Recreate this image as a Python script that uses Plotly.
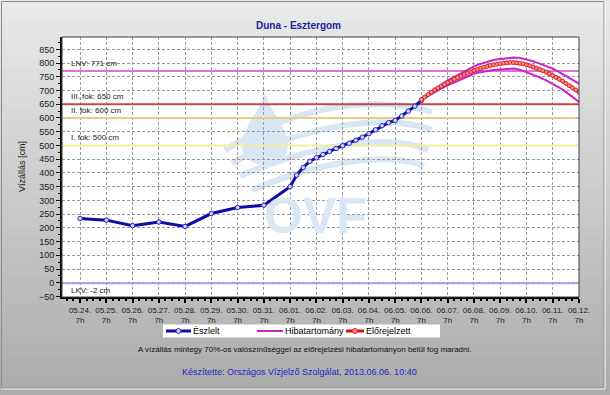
import plotly.graph_objects as go

# ---------------- data ----------------
obs_times = [
    "2013-05-24 07:00", "2013-05-25 07:00", "2013-05-26 07:00", "2013-05-27 07:00",
    "2013-05-28 07:00", "2013-05-29 07:00", "2013-05-30 07:00", "2013-05-31 07:00",
    "2013-06-01 07:00", "2013-06-01 13:00", "2013-06-01 19:00", "2013-06-02 01:00",
    "2013-06-02 07:00", "2013-06-02 13:00", "2013-06-02 19:00", "2013-06-03 01:00",
    "2013-06-03 07:00", "2013-06-03 13:00", "2013-06-03 19:00", "2013-06-04 01:00",
    "2013-06-04 07:00", "2013-06-04 13:00", "2013-06-04 19:00", "2013-06-05 01:00",
    "2013-06-05 07:00", "2013-06-05 13:00", "2013-06-05 19:00", "2013-06-06 01:00",
    "2013-06-06 07:00",
]
obs_values = [
    234, 228, 208, 221, 205, 252, 274, 282,
    350, 392, 420, 442, 455, 467, 478, 489,
    499, 508, 519, 530, 543, 557, 572, 583,
    591, 607, 625, 643, 664,
]

fc_times = [
    "2013-06-06 07:00", "2013-06-06 10:00", "2013-06-06 13:00", "2013-06-06 16:00",
    "2013-06-06 19:00", "2013-06-06 22:00", "2013-06-07 01:00", "2013-06-07 04:00",
    "2013-06-07 07:00", "2013-06-07 10:00", "2013-06-07 13:00", "2013-06-07 16:00",
    "2013-06-07 19:00", "2013-06-07 22:00", "2013-06-08 01:00", "2013-06-08 04:00",
    "2013-06-08 07:00", "2013-06-08 10:00", "2013-06-08 13:00", "2013-06-08 16:00",
    "2013-06-08 19:00", "2013-06-08 22:00", "2013-06-09 01:00", "2013-06-09 04:00",
    "2013-06-09 07:00", "2013-06-09 10:00", "2013-06-09 13:00", "2013-06-09 16:00",
    "2013-06-09 19:00", "2013-06-09 22:00", "2013-06-10 01:00", "2013-06-10 04:00",
    "2013-06-10 07:00", "2013-06-10 10:00", "2013-06-10 13:00", "2013-06-10 16:00",
    "2013-06-10 19:00", "2013-06-10 22:00", "2013-06-11 01:00", "2013-06-11 04:00",
    "2013-06-11 07:00", "2013-06-11 10:00", "2013-06-11 13:00", "2013-06-11 16:00",
    "2013-06-11 19:00", "2013-06-11 22:00", "2013-06-12 01:00", "2013-06-12 04:00",
    "2013-06-12 07:00",
]
fc_values = [
    667, 676, 685, 694, 702, 709, 716, 723,
    729, 735, 741, 747, 753, 758, 763, 768,
    773, 777, 781, 785, 788, 791, 794, 796,
    798, 800, 801, 802, 802, 801, 799, 797,
    794, 790, 786, 782, 777, 772, 767, 761,
    755, 748, 741, 734, 726, 718, 710, 702,
    694,
]

band_times = [
    "2013-06-06 07:00", "2013-06-06 13:00", "2013-06-06 19:00", "2013-06-07 01:00",
    "2013-06-07 07:00", "2013-06-07 13:00", "2013-06-07 19:00", "2013-06-08 01:00",
    "2013-06-08 07:00", "2013-06-08 13:00", "2013-06-08 19:00", "2013-06-09 01:00",
    "2013-06-09 07:00", "2013-06-09 13:00", "2013-06-09 19:00", "2013-06-10 01:00",
    "2013-06-10 07:00", "2013-06-10 13:00", "2013-06-10 19:00", "2013-06-11 01:00",
    "2013-06-11 07:00", "2013-06-11 13:00", "2013-06-11 19:00", "2013-06-12 01:00",
    "2013-06-12 07:00",
]
band_upper = [
    667, 686, 704, 721, 737, 750, 763, 776,
    788, 797, 805, 811, 815, 818, 820, 819,
    814, 807, 798, 789, 780, 767, 754, 740,
    725,
]
band_lower = [
    667, 681, 694, 707, 719, 730, 741, 751,
    761, 767, 772, 775, 777, 779, 780, 776,
    767, 758, 748, 737, 725, 711, 695, 677,
    658,
]

level_names = ["LNV: 771 cm", "III. fok: 650 cm", "II. fok: 600 cm", "I. fok: 500 cm", "LKV: -2 cm"]
level_values = [771, 650, 600, 500, -2]
level_colors = ["#e070e0", "#c04848", "#e8cc80", "#f2ee9c", "#a4a4ee"]

legend_names = ["Észlelt", "Hibatartomány", "Előrejelzett"]

tick_days = ["05.24.", "05.25.", "05.26.", "05.27.", "05.28.", "05.29.", "05.30.", "05.31.",
             "06.01.", "06.02.", "06.03.", "06.04.", "06.05.", "06.06.", "06.07.", "06.08.",
             "06.09.", "06.10.", "06.11.", "06.12."]
tick_vals = ["2013-%s-%s 07:00" % (d[0:2], d[3:5]) for d in tick_days]
tick_text = [d + "<br>7h" for d in tick_days]

x_range = ["2013-05-23 14:30", "2013-06-12 07:00"]
y_range = [-52, 895]

# ---------------- geometry helpers (pixel -> paper) ----------------
W, H = 610, 395
PL, PR, PT, PB = 62, 579, 37, 297


def px(x):
    return (x - PL) / (PR - PL)


def py(y):
    return (PB - y) / (PB - PT)


FONT = "Liberation Sans, Arial, sans-serif"

OBS_C, OBS_FILL, OBS_EDGE = "#0c0ca8", "#c8d4f4", "#2a2ac0"
BAND_C = "#cc22cc"
FC_C, FC_FILL, FC_EDGE = "#d01414", "#f09090", "#e02424"

fig = go.Figure()

# reference levels
for name, val, col in zip(level_names, level_values, level_colors):
    fig.add_trace(go.Scatter(x=x_range, y=[val, val], mode="lines",
                             line=dict(color=col, width=2), hoverinfo="skip",
                             showlegend=False))

# observed
fig.add_trace(go.Scatter(x=obs_times, y=obs_values, mode="lines+markers", name=legend_names[0],
                         line=dict(color=OBS_C, width=3), showlegend=False,
                         marker=dict(symbol="circle", size=4.5, color=OBS_FILL,
                                     line=dict(color=OBS_EDGE, width=1))))
# error band
fig.add_trace(go.Scatter(x=band_times, y=band_upper, mode="lines", name=legend_names[1],
                         line=dict(color=BAND_C, width=2), showlegend=False))
fig.add_trace(go.Scatter(x=band_times, y=band_lower, mode="lines", name=legend_names[1],
                         line=dict(color=BAND_C, width=2), showlegend=False))
# forecast
fig.add_trace(go.Scatter(x=fc_times, y=fc_values, mode="lines+markers", name=legend_names[2],
                         line=dict(color=FC_C, width=3), showlegend=False,
                         marker=dict(symbol="circle", size=4, color=FC_FILL,
                                     line=dict(color=FC_EDGE, width=1))))

shapes = []
annotations = []
# background gradient
N = 40
top_c = (234, 234, 234)
bot_c = (172, 172, 172)
for i in range(N):
    t = i / (N - 1)
    c = tuple(int(top_c[k] + (bot_c[k] - top_c[k]) * t) for k in range(3))
    y0 = i * H / N
    y1 = (i + 1) * H / N + 0.5
    shapes.append(dict(type="rect", xref="paper", yref="paper", layer="below",
                       x0=px(0), x1=px(W), y0=py(y1), y1=py(y0),
                       line=dict(width=0), fillcolor="rgb(%d,%d,%d)" % c))
# panel frame
shapes.append(dict(type="rect", xref="paper", yref="paper", layer="below",
                   x0=px(1.5), x1=px(604), y0=py(388), y1=py(1.5),
                   line=dict(color="#8c8c8c", width=1), fillcolor="rgba(0,0,0,0)"))
shapes.append(dict(type="line", xref="paper", yref="paper", layer="below",
                   x0=px(1), x1=px(605), y0=py(389), y1=py(389),
                   line=dict(color="#f4f4f4", width=1)))
shapes.append(dict(type="line", xref="paper", yref="paper", layer="below",
                   x0=px(605), x1=px(605), y0=py(389), y1=py(1),
                   line=dict(color="#f4f4f4", width=1)))
# plot area white
shapes.append(dict(type="rect", xref="paper", yref="paper", layer="below",
                   x0=0, x1=1, y0=0, y1=1, line=dict(width=0), fillcolor="white"))

# watermark (OVF logo)
wm = "#d9e6f3"
drop = ("M %f,%f C %f,%f %f,%f %f,%f C %f,%f %f,%f %f,%f "
        "C %f,%f %f,%f %f,%f C %f,%f %f,%f %f,%f Z") % (
    px(265), py(92),
    px(270), py(112), px(288), py(128), px(288), py(145),
    px(288), py(158), px(278), py(165), px(265), py(165),
    px(252), py(165), px(242), py(158), px(242), py(145),
    px(242), py(128), px(260), py(112), px(265), py(92))
shapes.append(dict(type="path", xref="paper", yref="paper", layer="below",
                   path=drop, fillcolor=wm, line=dict(width=0)))
waves = [
    (225, 150, 300, 102, 380, 96, 432, 112),
    (232, 163, 310, 122, 390, 114, 432, 130),
    (240, 176, 320, 142, 392, 134, 428, 150),
    (252, 190, 322, 160, 392, 152, 424, 166),
]
for (x0, y0, cx1, cy1, cx2, cy2, x1, y1) in waves:
    p = "M %f,%f C %f,%f %f,%f %f,%f" % (px(x0), py(y0), px(cx1), py(cy1),
                                         px(cx2), py(cy2), px(x1), py(y1))
    shapes.append(dict(type="path", xref="paper", yref="paper", layer="below",
                       path=p, line=dict(color=wm, width=6)))
annotations.append(dict(text="<b>OVF</b>", xref="paper", yref="paper", x=px(315), y=py(216),
                        showarrow=False, font=dict(family="Liberation Sans, Arial", size=50,
                                                   color=wm), xanchor="center", yanchor="middle"))

# level labels
for name, val in zip(level_names, level_values):
    annotations.append(dict(text=name, xref="paper", yref="y", x=px(69), y=val,
                            xanchor="left", yanchor="top" if val < 100 else "bottom",
                            yshift=-1 if val < 100 else 1,
                            showarrow=False, font=dict(family=FONT, size=8, color="#202020")))

# manual legend (white box below the plot)
LY = 331
shapes.append(dict(type="rect", xref="paper", yref="paper", x0=px(163), x1=px(440),
                   y0=py(337.5), y1=py(324.5), line=dict(width=0), fillcolor="white"))
legend_items = [
    (legend_names[0], OBS_C, 3, OBS_FILL, OBS_EDGE, 166, 191),
    (legend_names[1], BAND_C, 2, None, None, 257, 283),
    (legend_names[2], FC_C, 3, FC_FILL, FC_EDGE, 346, 364),
]
for name, col, lw, fill, edge, lx0, lx1 in legend_items:
    shapes.append(dict(type="line", xref="paper", yref="paper", x0=px(lx0), x1=px(lx1),
                       y0=py(LY), y1=py(LY), line=dict(color=col, width=lw)))
    if fill:
        cx = (lx0 + lx1) / 2
        shapes.append(dict(type="circle", xref="paper", yref="paper",
                           x0=px(cx - 2.5), x1=px(cx + 2.5), y0=py(LY + 2.5), y1=py(LY - 2.5),
                           fillcolor=fill, line=dict(color=edge, width=1)))
    annotations.append(dict(text=name, xref="paper", yref="paper", x=px(lx1), y=py(LY),
                            xanchor="left", yanchor="middle", showarrow=False,
                            font=dict(family=FONT, size=9, color="#000")))

# captions
annotations.append(dict(text="A vízállás mintegy 70%-os valószínűséggel az előrejelzési hibatartományon belül fog maradni.",
                        xref="paper", yref="paper", x=px(305), y=py(349), showarrow=False,
                        xanchor="center", yanchor="middle",
                        font=dict(family=FONT, size=8, color="#101010")))
annotations.append(dict(text="Készítette: Országos Vízjelző Szolgálat, 2013.06.06. 10:40",
                        xref="paper", yref="paper", x=px(299), y=py(372), showarrow=False,
                        xanchor="center", yanchor="middle",
                        font=dict(family=FONT, size=9, color="#2424c8")))
annotations.append(dict(text="<b>Duna - Esztergom</b>", xref="paper", yref="paper",
                        x=px(298), y=py(26), showarrow=False, xanchor="center", yanchor="middle",
                        font=dict(family=FONT, size=10, color="#1c1ca0")))
annotations.append(dict(text="Vízállás [cm]", xref="paper", yref="paper", x=px(22), y=py(167),
                        showarrow=False, textangle=-90, xanchor="center", yanchor="middle",
                        font=dict(family=FONT, size=9, color="#202020")))
# top/right border
shapes.append(dict(type="rect", xref="paper", yref="paper", x0=0, x1=1, y0=0, y1=1,
                   line=dict(color="#404040", width=1)))

fig.update_layout(
    width=W, height=H,
    margin=dict(l=PL, r=W - PR, t=PT, b=H - PB, autoexpand=False),
    paper_bgcolor="#c4c4c4",
    plot_bgcolor="rgba(0,0,0,0)",
    shapes=shapes,
    annotations=annotations,
    showlegend=False,
    font=dict(family=FONT),
)

fig.update_xaxes(
    type="date", range=x_range, tickmode="array", tickvals=tick_vals, ticktext=tick_text,
    tickfont=dict(family=FONT, size=8, color="#202020"), tickangle=0,
    showgrid=True, gridcolor="#999999", griddash="3px,2px", gridwidth=1,
    showline=True, linecolor="black", linewidth=2, ticks="outside", ticklen=4,
    tickcolor="black", tickwidth=2, zeroline=False,
    minor=dict(ticks="outside", ticklen=2, tickcolor="black", dtick=6 * 3600 * 1000,
               tick0="2013-05-24 07:00", showgrid=False),
)
fig.update_yaxes(
    range=y_range, tickmode="linear", tick0=-50, dtick=50,
    tickfont=dict(family=FONT, size=9, color="#202020"),
    showgrid=True, gridcolor="#999999", griddash="3px,2px", gridwidth=1,
    showline=True, linecolor="black", linewidth=2, ticks="outside", ticklen=4,
    tickcolor="black", tickwidth=1, zeroline=False,
    minor=dict(ticks="outside", ticklen=2, tickcolor="black", dtick=25, showgrid=False),
)

fig.write_html("out.html", config={"displayModeBar": False},
               post_script="document.body.style.margin='0px';document.body.style.overflow='hidden';")
